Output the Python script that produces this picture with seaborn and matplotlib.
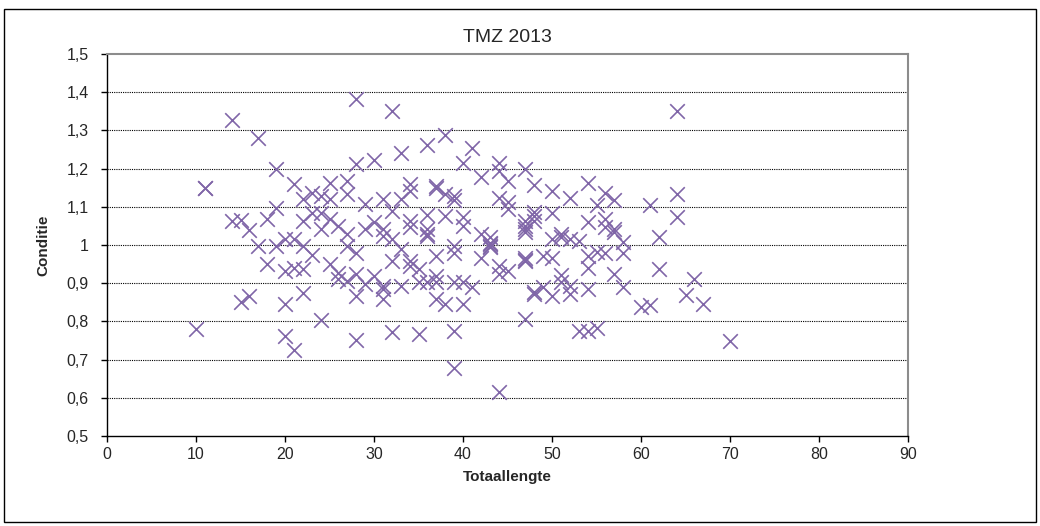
import matplotlib
matplotlib.use("Agg")
import matplotlib.pyplot as plt
import seaborn as sns
import pandas as pd
from matplotlib.patches import Rectangle
from matplotlib.ticker import FuncFormatter

# Data (Totaallengte, Conditie)
lengths = [
    10, 11, 11, 14, 14, 15, 15, 16, 16, 17, 17, 18, 18, 19, 19, 19,
    20, 20, 20, 20, 21, 21, 21, 21, 22, 22, 22, 22, 22, 23, 23, 23,
    24, 24, 24, 24, 25, 25, 25, 25, 26, 26, 26, 27, 27, 27, 27, 27,
    28, 28, 28, 28, 28, 28, 29, 29, 29, 30, 30, 30, 31, 31, 31, 31, 31, 31,
    32, 32, 32, 32, 32, 33, 33, 33, 33, 34, 34, 34, 34, 34, 34,
    35, 35, 35, 36, 36, 36, 36, 36, 36, 37, 37, 37, 37, 37, 37,
    38, 38, 38, 38, 39, 39, 39, 39, 39, 39, 39, 40, 40, 40, 40, 40,
    41, 41, 42, 42, 42, 43, 43, 43, 43, 43, 44, 44, 44, 44, 44, 44,
    45, 45, 45, 45, 47, 47, 47, 47, 47, 47, 47, 47, 47,
    48, 48, 48, 48, 48, 48, 49, 49, 50, 50, 50, 50, 50,
    51, 51, 51, 51, 52, 52, 52, 52, 53, 53, 54, 54, 54, 54, 54, 54,
    55, 55, 55, 56, 56, 56, 56, 57, 57, 57, 57, 58, 58, 58,
    60, 61, 61, 62, 62, 64, 64, 64, 65, 66, 67, 70,
]
conditie = [
    0.78, 1.15, 1.15, 1.326, 1.063, 1.066, 0.852, 1.039, 0.867, 1.281, 0.998, 1.067, 0.95, 1.198, 1.098, 0.998,
    1.017, 0.932, 0.845, 0.763, 1.159, 1.017, 0.941, 0.724, 1.121, 1.063, 0.998, 0.937, 0.874, 1.137, 1.085, 0.974,
    1.128, 1.085, 1.041, 0.804, 1.161, 1.12, 1.067, 0.95, 1.05, 0.928, 0.911, 1.167, 1.133, 1.028, 0.998, 0.906,
    1.381, 1.211, 0.98, 0.924, 0.867, 0.752, 1.107, 1.041, 0.898, 1.222, 1.059, 0.919, 1.121, 1.041, 1.024, 0.893, 0.885, 0.858,
    1.35, 1.089, 1.015, 0.958, 0.773, 1.241, 1.121, 0.989, 0.893, 1.159, 1.141, 1.063, 1.046, 0.958, 0.945,
    0.937, 0.902, 0.767, 1.261, 1.078, 1.041, 1.028, 1.024, 0.902, 1.154, 1.15, 0.972, 0.919, 0.902, 0.858,
    1.287, 1.133, 1.076, 0.845, 1.128, 1.118, 0.998, 0.98, 0.902, 0.776, 0.678, 1.214, 1.072, 1.05, 0.902, 0.845,
    1.255, 0.889, 1.179, 1.028, 0.967, 1.02, 1.003, 0.998, 0.995, 1.006, 1.214, 1.193, 1.122, 0.945, 0.924, 0.616,
    1.167, 1.113, 1.093, 0.932, 1.2, 1.063, 1.05, 1.041, 1.033, 0.967, 0.961, 0.958, 0.806,
    1.156, 1.087, 1.076, 1.063, 0.876, 0.872, 0.972, 0.889, 1.141, 1.085, 1.015, 0.967, 0.867,
    1.028, 1.022, 0.922, 0.904, 1.124, 1.015, 0.893, 0.871, 1.011, 0.776, 1.162, 1.06, 0.972, 0.941, 0.885, 0.776,
    1.105, 0.982, 0.783, 1.137, 1.067, 1.046, 0.98, 1.119, 1.041, 1.033, 0.924, 1.007, 0.98, 0.891,
    0.839, 1.104, 0.844, 1.02, 0.937, 1.352, 1.133, 1.072, 0.869, 0.911, 0.845, 0.75,
]

x_ticks = [0, 10, 20, 30, 40, 50, 60, 70, 80, 90]
y_ticks = [0.5, 0.6, 0.7, 0.8, 0.9, 1.0, 1.1, 1.2, 1.3, 1.4, 1.5]
title = "TMZ 2013"
x_label = "Totaallengte"
y_label = "Conditie"

df = pd.DataFrame({"Totaallengte": lengths, "Conditie": conditie})

sns.set_style("white")
plt.rcParams["font.family"] = ["Liberation Sans", "DejaVu Sans"]

fig = plt.figure(figsize=(10.4, 5.26), dpi=100)
ax = fig.add_axes([107 / 1040, 1 - 436 / 526, (908 - 107) / 1040, (436 - 54) / 526])

sns.scatterplot(data=df, x="Totaallengte", y="Conditie", marker="x",
                color="#8066A8", s=110, linewidth=1.2, ax=ax, zorder=3)

ax.set_xlim(0, 90)
ax.set_ylim(0.5, 1.5)
ax.set_xticks(x_ticks)
ax.set_yticks(y_ticks)

def yfmt(v, pos):
    s = ("%.1f" % v)
    if s.endswith(".0"):
        s = s[:-2]
    return s.replace(".", ",")

ax.yaxis.set_major_formatter(FuncFormatter(yfmt))

for yv in y_ticks[1:-1]:
    ax.axhline(yv, color="black", linestyle=(0, (1, 1)), linewidth=0.8, zorder=1)

for side in ["left", "bottom"]:
    ax.spines[side].set_color("black")
    ax.spines[side].set_linewidth(1.0)
for side in ["top", "right"]:
    ax.spines[side].set_color("#8c8c8c")
    ax.spines[side].set_linewidth(1.5)

ax.tick_params(axis="both", which="major", direction="out", length=4, width=1,
               color="black", labelsize=11.5, bottom=True, left=True)
ax.tick_params(axis="y", pad=9)
ax.tick_params(axis="x", pad=4)

ax.set_title(title, fontsize=14, pad=9)
ax.set_xlabel(x_label, fontsize=11, fontweight="bold", labelpad=6)
ax.set_ylabel(y_label, fontsize=11, fontweight="bold", labelpad=12)

fig.patches.append(Rectangle((4 / 1040, 1 - 522 / 526), 1032 / 1040, 513 / 526,
                             transform=fig.transFigure, fill=False,
                             edgecolor="black", linewidth=1.0))

fig.savefig("out.png", dpi=100)
